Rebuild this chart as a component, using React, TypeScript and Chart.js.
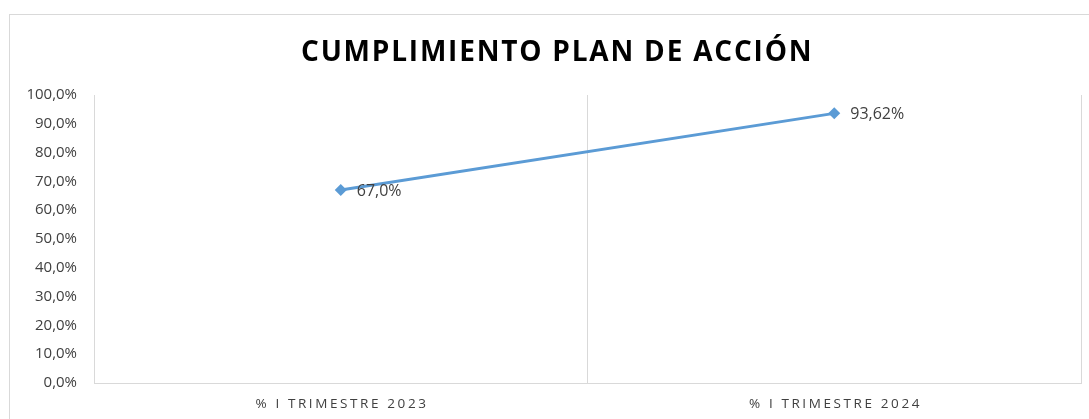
import React, { useEffect, useRef } from "react";
import { Chart, registerables } from "chart.js";

Chart.register(...registerables);

const categories = ["% I TRIMESTRE 2023", "% I TRIMESTRE 2024"];
const values = [67.0, 93.62];
const valueLabels = ["67,0%", "93,62%"];
const yTicks = [0, 10, 20, 30, 40, 50, 60, 70, 80, 90, 100];
const title = "CUMPLIMIENTO PLAN DE ACCIÓN";

const FONT = "'Open Sans', 'DejaVu Sans', sans-serif";

const labelPlugin = {
  id: "customLabels",
  afterDraw(chart: any) {
    const ctx = chart.ctx;
    const xs = chart.scales.x;
    const meta = chart.getDatasetMeta(0);
    ctx.save();
    // x category labels with letter spacing
    ctx.font = `13.5px ${FONT}`;
    ctx.fillStyle = "#404040";
    ctx.textAlign = "center";
    ctx.textBaseline = "middle";
    (ctx as any).letterSpacing = "2.6px";
    categories.forEach((c, i) => {
      const x = xs.getPixelForValue(i);
      ctx.fillText(c, x + 1.3, 404);
    });
    (ctx as any).letterSpacing = "0px";
    // data labels
    ctx.font = `16px ${FONT}`;
    ctx.fillStyle = "#404040";
    ctx.textAlign = "left";
    meta.data.forEach((pt: any, i: number) => {
      ctx.fillText(valueLabels[i], pt.x + 16, pt.y + 1);
    });
    ctx.restore();
  },
};

export default function App() {
  const ref = useRef<HTMLCanvasElement>(null);
  useEffect(() => {
    if (!ref.current) return;
    const chart = new Chart(ref.current, {
      type: "line",
      data: {
        labels: categories,
        datasets: [
          {
            data: values,
            borderColor: "#5B9BD5",
            backgroundColor: "#5B9BD5",
            borderWidth: 3,
            pointStyle: "rectRot",
            pointRadius: 6,
            pointHoverRadius: 6,
            pointBorderWidth: 0,
            tension: 0,
          },
        ],
      },
      options: {
        animation: false,
        responsive: false,
        devicePixelRatio: 1,
        layout: { padding: { top: 95, right: 8, left: 0, bottom: 0 } },
        plugins: {
          legend: { display: false },
          tooltip: { enabled: false },
          title: { display: false },
        },
        scales: {
          x: {
            type: "category",
            offset: true,
            grid: { display: true, offset: true, color: "#d9d9d9", drawTicks: false, lineWidth: 1 },
            border: { display: true, color: "#d9d9d9" },
            ticks: { display: false },
            afterFit: (s: any) => {
              s.height = 36;
            },
          },
          y: {
            min: 0,
            max: 100,
            afterBuildTicks: (s: any) => {
              s.ticks = yTicks.map((v) => ({ value: v }));
            },
            grid: { display: false, drawTicks: false },
            border: { display: true, color: "#d9d9d9" },
            ticks: {
              padding: 17,
              color: "#404040",
              font: { family: FONT, size: 15 },
              callback: (v: any) => Number(v).toFixed(1).replace(".", ",") + "%",
            },
            afterFit: (s: any) => {
              s.width = 94;
            },
          },
        },
      },
      plugins: [labelPlugin],
    });
    return () => chart.destroy();
  }, []);

  return (
    <div style={{ position: "absolute", left: 0, top: 0, width: 1089, height: 419, background: "#fff", overflow: "hidden" }}>
      <div
        style={{
          position: "absolute",
          left: 9,
          top: 14,
          width: 1100,
          height: 430,
          border: "1.5px solid #d9d9d9",
          boxSizing: "border-box",
        }}
      />
      <canvas ref={ref} width={1089} height={419} style={{ position: "absolute", left: 0, top: 0 }} />
      <div
        style={{
          position: "absolute",
          left: 301,
          top: 36,
          lineHeight: "28px",
          fontFamily: FONT,
          fontWeight: 700,
          fontSize: 28,
          letterSpacing: "1.8px",
          whiteSpace: "nowrap",
          color: "#000",
        }}
      >
        {title}
      </div>
    </div>
  );
}
